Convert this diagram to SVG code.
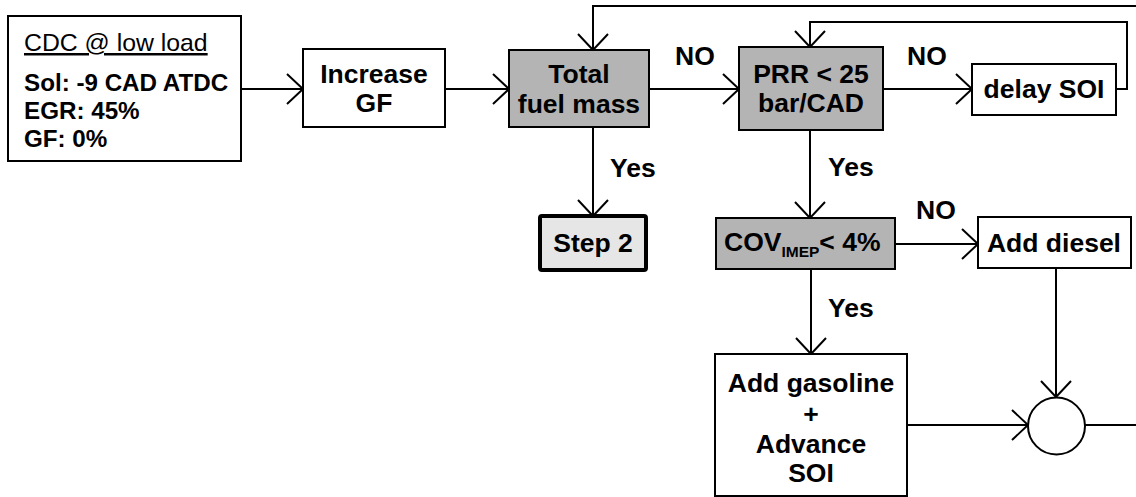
<svg xmlns="http://www.w3.org/2000/svg" width="1136" height="497" viewBox="0 0 1136 497">
<defs>
<style>
.box{fill:#fff;stroke:#000;stroke-width:2}
.dec{fill:#b4b4b4;stroke:#000;stroke-width:2}
.t{font-family:"Liberation Sans",Arial,sans-serif;font-weight:bold;font-size:26.5px;fill:#000}
.c{text-anchor:middle}
.cdc{font-family:"Liberation Sans",Arial,sans-serif;font-weight:bold;font-size:24.2px;fill:#000}
.edge{fill:none;stroke:#000;stroke-width:2}
</style>
<marker id="arr" markerUnits="userSpaceOnUse" markerWidth="22" markerHeight="36" refX="18" refY="17" orient="auto">
<path d="M2,2 L18,17 L2,32" fill="none" stroke="#000" stroke-width="2"/>
</marker>
</defs>
<rect width="1136" height="497" fill="#fff"/>
<g id="connectors">
<path class="edge" d="M241,89 H303" marker-end="url(#arr)"/>
<path class="edge" d="M445,89 H509" marker-end="url(#arr)"/>
<path class="edge" d="M649,89 H739" marker-end="url(#arr)"/>
<path class="edge" d="M883,89 H972" marker-end="url(#arr)"/>
<path class="edge" d="M1116,89 H1127 V22 H810 V47" marker-end="url(#arr)"/>
<path class="edge" d="M1085,425 H1150 V6 H593 V50" marker-end="url(#arr)"/>
<path class="edge" d="M593,127 V216" marker-end="url(#arr)"/>
<path class="edge" d="M810,130 V218" marker-end="url(#arr)"/>
<path class="edge" d="M895,244 H978" marker-end="url(#arr)"/>
<path class="edge" d="M811,268 V354" marker-end="url(#arr)"/>
<path class="edge" d="M1056,268 V397" marker-end="url(#arr)"/>
<path class="edge" d="M907,425 H1028" marker-end="url(#arr)"/>
<text class="t" x="675" y="65">NO</text>
<text class="t" x="907" y="65">NO</text>
<text class="t" x="916" y="219">NO</text>
<text class="t" x="610" y="177">Yes</text>
<text class="t" x="828" y="176">Yes</text>
<text class="t" x="828" y="317">Yes</text>
</g>
<g id="cdc">
<rect class="box" x="8" y="16" width="233" height="145"/>
<text x="24" y="51" font-family="Liberation Sans, Arial, sans-serif" font-size="24.8" text-decoration="underline">CDC @ low load</text>
<text class="cdc" x="24" y="91">Sol: -9 CAD ATDC</text>
<text class="cdc" x="24" y="119">EGR: 45%</text>
<text class="cdc" x="24" y="147">GF: 0%</text>
</g>
<g id="increase">
<rect class="box" x="303" y="49" width="142" height="78"/>
<text class="t c" x="374" y="83">Increase</text>
<text class="t c" x="374" y="112">GF</text>
</g>
<g id="total">
<rect class="dec" x="509" y="50" width="140" height="77"/>
<text class="t c" x="579" y="83">Total</text>
<text class="t c" x="579" y="113">fuel mass</text>
</g>
<g id="prr">
<rect class="dec" x="739" y="47" width="144" height="83"/>
<text class="t c" x="811" y="83">PRR &lt; 25</text>
<text class="t c" x="811" y="112">bar/CAD</text>
</g>
<g id="delay">
<rect class="box" x="972" y="64" width="144" height="51"/>
<text class="t c" x="1044" y="98">delay SOI</text>
</g>
<g id="step2">
<rect x="540" y="216" width="106" height="54" rx="2" fill="#e6e6e6" stroke="#000" stroke-width="4"/>
<text class="t c" x="593" y="252">Step 2</text>
</g>
<g id="cov">
<rect class="dec" x="716" y="218" width="179" height="51"/>
<text class="t" x="724" y="251">COV<tspan font-size="15.5" dy="6">IMEP</tspan><tspan dy="-6">&lt; 4%</tspan></text>
</g>
<g id="diesel">
<rect class="box" x="978" y="217" width="153" height="51"/>
<text class="t c" x="1054" y="252">Add diesel</text>
</g>
<g id="gasoline">
<rect class="box" x="715" y="354" width="192" height="142"/>
<text class="t c" x="811" y="392">Add gasoline</text>
<text class="t c" x="811" y="423">+</text>
<text class="t c" x="811" y="453">Advance</text>
<text class="t c" x="811" y="482">SOI</text>
</g>
<g id="sum">
<circle cx="1056.5" cy="426" r="28.5" fill="#fff" stroke="#000" stroke-width="2"/>
</g>
</svg>
